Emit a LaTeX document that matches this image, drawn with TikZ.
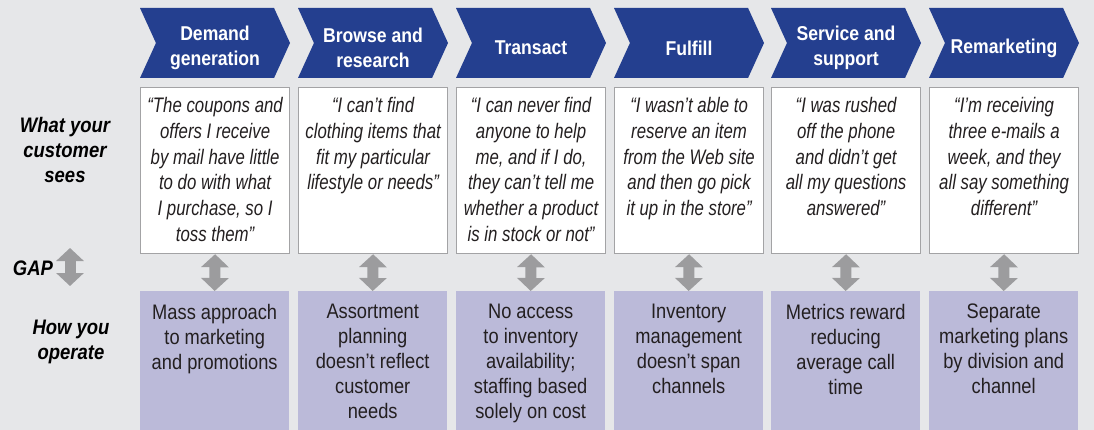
\documentclass[tikz,border=0pt]{standalone}
\usepackage{fontspec}
\setmainfont{Liberation Sans}
\newfontfamily\headfont[FakeStretch=0.88]{Liberation Sans}
\newfontfamily\quotefont[FakeStretch=0.80]{Liberation Sans}
\newfontfamily\opsfont[FakeStretch=0.87]{Liberation Sans}
\usetikzlibrary{%
  arrows.meta,
  positioning,
  shapes.symbols
}

\definecolor{pagegray}{HTML}{E6E7E9}
\definecolor{chevronblue}{HTML}{243F8F}
\definecolor{opspurple}{HTML}{BBBAD9}
\definecolor{gapgray}{HTML}{9C9C9E}
\definecolor{boxgray}{HTML}{A3A3A5}
\definecolor{inkgray}{HTML}{231F20}

\begin{document}
\begin{tikzpicture}[x=1pt, y=-1pt,
  chevron/.style={signal, signal from=west, signal to=east,
    signal pointer angle=131, minimum width=150pt, minimum height=70pt,
    inner sep=0pt, fill=chevronblue},
  headtext/.style={text=white, align=center, inner sep=0pt,
    font=\headfont\bfseries\fontsize{20}{25}\selectfont},
  quotebox/.style={draw=boxgray, fill=white, line width=1.2pt,
    anchor=north west, minimum width=149pt, minimum height=166pt, inner sep=0pt},
  quotetext/.style={anchor=north, align=center, inner sep=0pt, text=inkgray,
    font=\quotefont\itshape\fontsize{21}{25.8}\selectfont},
  opsbox/.style={fill=opspurple, anchor=north west,
    minimum width=149pt, minimum height=139pt, inner sep=0pt},
  opstext/.style={anchor=north, align=center, inner sep=0pt, text=inkgray,
    font=\opsfont\fontsize{21}{25}\selectfont},
  rowlabel/.style={align=center, inner sep=0pt, text=black,
    font=\headfont\bfseries\itshape\fontsize{21}{25}\selectfont},
  gaparrow/.style={draw=gapgray, line width=11pt,
    {Triangle[width=27pt,length=13pt]}-{Triangle[width=27pt,length=13pt]}}
]
  \useasboundingbox (0,0) rectangle (1094,430);
  \fill [pagegray] (0,0) rectangle (1094,430);

  % row labels on the left
  \node [rowlabel] (sees)    at (65,150)  {What your\\customer\\sees};
  \node [rowlabel] (gap)     at (33,268)  {GAP};
  \node [rowlabel] (operate) at (71,342)  {How you\\operate};
  \coordinate (gaptop) at (70,248);
  \coordinate (gapbot) at (70,286);
  \draw [gaparrow] (gaptop) -- (gapbot);

  % stage chevrons, titles set a little below the centre
  \node [chevron] (head1) at (215,43) {};
  \node [chevron] (head2) at (373,43) {};
  \node [chevron] (head3) at (531,43) {};
  \node [chevron] (head4) at (689,43) {};
  \node [chevron] (head5) at (846,43) {};
  \node [chevron] (head6) at (1004,43) {};
  \node [headtext, below=5pt of head1.center, anchor=center] (title1) {Demand\\generation};
  \node [headtext, below=5pt of head2.center, anchor=center] (title2) {Browse and\\research};
  \node [headtext, below=5pt of head3.center, anchor=center] (title3) {Transact};
  \node [headtext, below=5pt of head4.center, anchor=center] (title4) {Fulfill};
  \node [headtext, below=5pt of head5.center, anchor=center] (title5) {Service and\\support};
  \node [headtext, below=5pt of head6.center, anchor=center] (title6) {Remarketing};

  % what the customer sees
  \node [quotebox] (quote1) at (140,87) {};
  \node [quotebox] (quote2) at (298,87) {};
  \node [quotebox] (quote3) at (456,87) {};
  \node [quotebox] (quote4) at (614,87) {};
  \node [quotebox] (quote5) at (771,87) {};
  \node [quotebox] (quote6) at (929,87) {};

  \node [quotetext, below=10pt of quote1.north] (said1)
        {“The coupons and\\offers I receive\\by mail have little\\to do with what\\I purchase, so I\\toss them”};
  \node [quotetext, below=10pt of quote2.north] (said2)
        {“I can’t find\\clothing items that\\fit my particular\\lifestyle or needs”};
  \node [quotetext, below=10pt of quote3.north] (said3)
        {“I can never find\\anyone to help\\me, and if I do,\\they can’t tell me\\whether a product\\is in stock or not”};
  \node [quotetext, below=10pt of quote4.north] (said4)
        {“I wasn’t able to\\reserve an item\\from the Web site\\and then go pick\\it up in the store”};
  \node [quotetext, below=10pt of quote5.north] (said5)
        {“I was rushed\\off the phone\\and didn’t get\\all my questions\\answered”};
  \node [quotetext, below=10pt of quote6.north] (said6)
        {“I’m receiving\\three e-mails a\\week, and they\\all say something\\different”};

  % how you operate
  \node [opsbox] (ops1) at (140,291) {};
  \node [opsbox] (ops2) at (298,291) {};
  \node [opsbox] (ops3) at (456,291) {};
  \node [opsbox] (ops4) at (614,291) {};
  \node [opsbox] (ops5) at (771,291) {};
  \node [opsbox] (ops6) at (929,291) {};

  \node [opstext, below=13pt of ops1.north] (does1)
        {Mass approach\\to marketing\\and promotions};
  \node [opstext, below=13pt of ops2.north] (does2)
        {Assortment\\planning\\doesn’t reflect\\customer\\needs};
  \node [opstext, below=13pt of ops3.north] (does3)
        {No access\\to inventory\\availability;\\staffing based\\solely on cost};
  \node [opstext, below=13pt of ops4.north] (does4)
        {Inventory\\management\\doesn’t span\\channels};
  \node [opstext, below=13pt of ops5.north] (does5)
        {Metrics reward\\reducing\\average call\\time};
  \node [opstext, below=13pt of ops6.north] (does6)
        {Separate\\marketing plans\\by division and\\channel};

  % gaps
  \draw [gaparrow] (quote1.south) -- (ops1.north);
  \draw [gaparrow] (quote2.south) -- (ops2.north);
  \draw [gaparrow] (quote3.south) -- (ops3.north);
  \draw [gaparrow] (quote4.south) -- (ops4.north);
  \draw [gaparrow] (quote5.south) -- (ops5.north);
  \draw [gaparrow] (quote6.south) -- (ops6.north);
\end{tikzpicture}
\end{document}
